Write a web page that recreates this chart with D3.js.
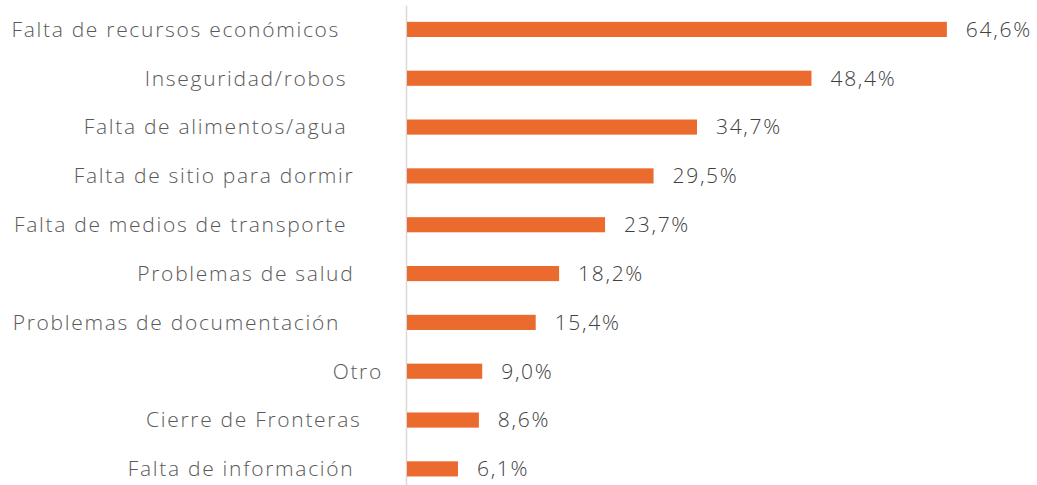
<!DOCTYPE html>
<html>
<head>
<meta charset="utf-8">
<script src="https://cdn.jsdelivr.net/npm/d3@7"></script>
<style>
  html, body { margin: 0; padding: 0; background: #fff; }
  svg { display: block; }
  text { font-family: "Open Sans", Lato, sans-serif; font-weight: 300; white-space: pre; letter-spacing: 1.7px; }
</style>
</head>
<body>
<svg id="chart" width="1037" height="485"></svg>
<script>
// Data
const categories = [
  "Falta de recursos económicos      ",
  "Inseguridad/robos     ",
  "Falta de alimentos/agua     ",
  "Falta de sitio para dormir    ",
  "Falta de medios de transporte     ",
  "Problemas de salud    ",
  "Problemas de documentación      ",
  "Otro",
  "Cierre de Fronteras   ",
  "Falta de información    "
];
const values = [64.6, 48.4, 34.7, 29.5, 23.7, 18.2, 15.4, 9.0, 8.6, 6.1];
const valueLabels = ["64,6%", "48,4%", "34,7%", "29,5%", "23,7%", "18,2%", "15,4%", "9,0%", "8,6%", "6,1%"];

const data = categories.map((c, i) => ({ cat: c, v: values[i], lbl: valueLabels[i] }));

const svg = d3.select("#chart");
const x = d3.scaleLinear().domain([0, 70]).range([407, 992]);
const y = d3.scaleBand().domain(categories).range([5, 493.3]).paddingInner(0.69).paddingOuter(0.345);

// axis line
svg.append("g")
  .attr("transform", "translate(406,0)")
  .call(d3.axisLeft(y).tickSize(0).tickFormat(""))
  .call(g => g.select(".domain").attr("stroke", "#d9d9d9").attr("stroke-width", 1.5));

// bars
svg.selectAll("rect.bar").data(data).join("rect")
  .attr("class", "bar")
  .attr("x", x(0))
  .attr("y", d => y(d.cat))
  .attr("width", d => x(d.v) - x(0))
  .attr("height", y.bandwidth())
  .attr("fill", "#eb6a2e");

// value labels
svg.selectAll("text.val").data(data).join("text")
  .attr("class", "val")
  .attr("x", d => x(d.v) + 19)
  .attr("y", d => y(d.cat) + y.bandwidth() / 2)
  .attr("dy", "0.35em")
  .attr("fill", "#404040")
  .style("font-size", "21px")
  .text(d => d.lbl);

// category labels
svg.selectAll("text.cat").data(data).join("text")
  .attr("class", "cat")
  .attr("x", 383)
  .attr("y", d => y(d.cat) + y.bandwidth() / 2)
  .attr("dy", "0.35em")
  .attr("text-anchor", "end")
  .attr("fill", "#595959")
  .style("font-size", "21px")
  .text(d => d.cat);
</script>
</body>
</html>
